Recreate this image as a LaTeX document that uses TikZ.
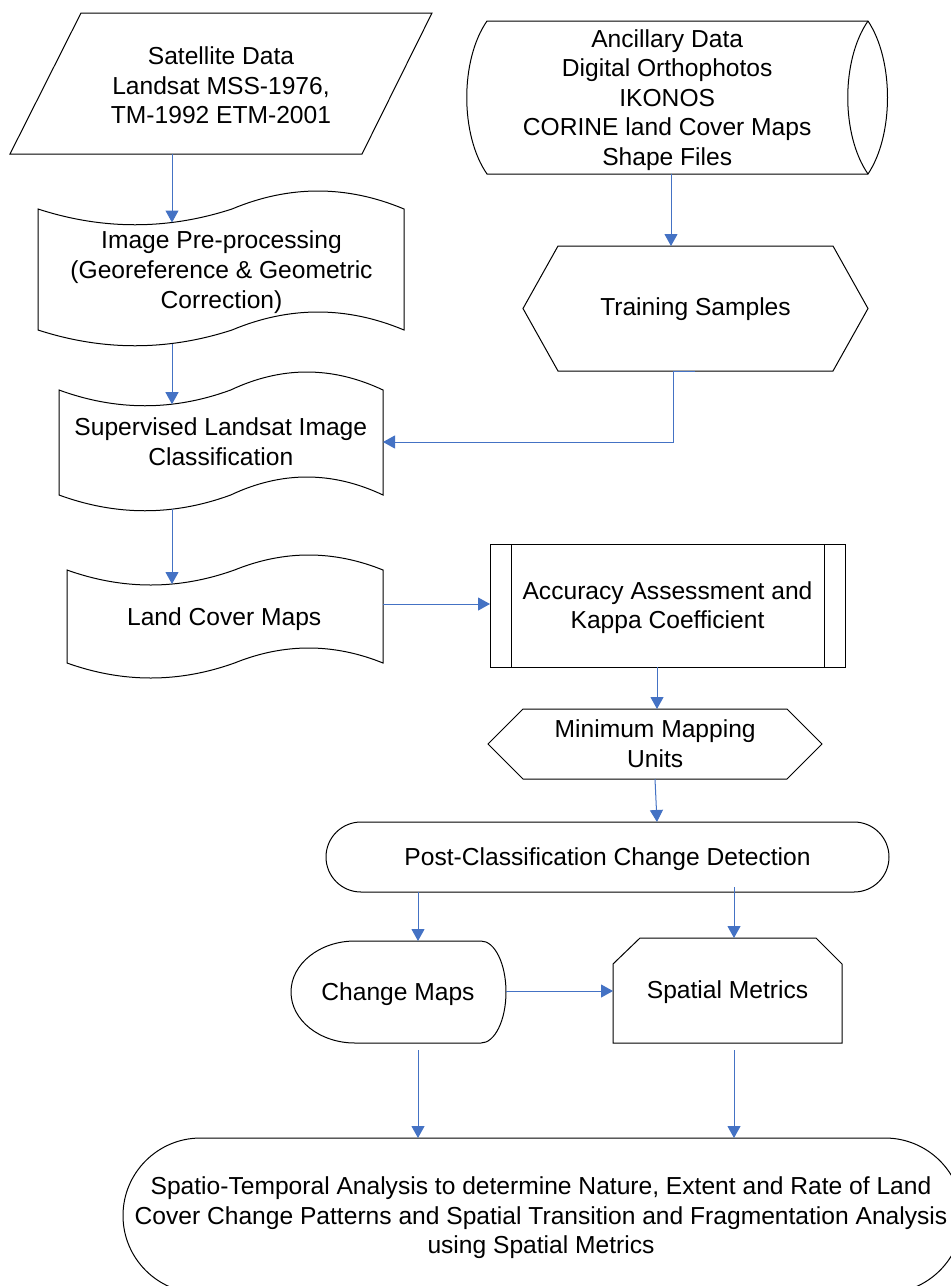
\documentclass[tikz,border=0pt]{standalone}
\usepackage{fontspec}
\setmainfont{Liberation Sans}
\usetikzlibrary{arrows.meta}
\definecolor{conn}{RGB}{68,114,196}
\tikzset{
  lbl/.style={font=\fontsize{24.6}{29.6}\selectfont, align=center, inner sep=0pt, yshift=-2.5pt},
  outline/.style={draw=black, line width=1pt, line join=miter},
  arr/.style={draw=conn, line width=1pt, -{Triangle[length=12pt,width=13pt]}},
}
\begin{document}
\begin{tikzpicture}[x=1pt,y=-1pt]
\useasboundingbox (0,0) rectangle (951,1286);
\fill[white] (0,0) rectangle (951,1286);
\clip (0,0) rectangle (951,1286);

% ---------- Satellite data (parallelogram)
\draw[outline] (81,13) -- (432,13) -- (362,154) -- (10,154) -- cycle;
\node[lbl] (sat) at (221,82.9) {Satellite Data\\Landsat MSS-1976,\\TM-1992 ETM-2001};
\coordinate (sat-s) at (172,154);

% ---------- Image pre-processing (tape)
\draw[outline] (38,209) .. controls (102.7,230) and (167.3,230) .. (232,209)
  .. controls (289.3,185) and (346.7,185) .. (404,209) -- (404,330)
  .. controls (346.7,306) and (289.3,306) .. (232,330)
  .. controls (167.3,351) and (102.7,351) .. (38,330) -- cycle;
\node[lbl] (pre) at (221.5,269.6) {Image Pre-processing\\(Georeference \& Geometric\\Correction)};
\coordinate (pre-n) at (172,222.5);
\coordinate (pre-s) at (172,343.5);

% ---------- Supervised classification (tape)
\draw[outline] (59,390) .. controls (116.2,411) and (173.5,411) .. (230.7,390)
  .. controls (281.5,366) and (332.2,366) .. (383,390) -- (383,495)
  .. controls (332.2,471) and (281.5,471) .. (230.7,495)
  .. controls (173.5,516) and (116.2,516) .. (59,495) -- cycle;
\node[lbl] (sup) at (220.8,439.4) {Supervised Landsat Image\\Classification};
\coordinate (sup-n) at (172,404.2);
\coordinate (sup-s) at (172,509.2);
\coordinate (sup-e) at (383,442);

% ---------- Land cover maps (tape)
\draw[outline] (67,570) .. controls (122.8,590) and (178.7,590) .. (234.5,570)
  .. controls (284,550) and (333.5,550) .. (383,570) -- (383,663)
  .. controls (333.5,643) and (284,643) .. (234.5,663)
  .. controls (178.7,683) and (122.8,683) .. (67,663) -- cycle;
\node[lbl] (lcm) at (224.2,617) {Land Cover Maps};
\coordinate (lcm-n) at (172,584);
\coordinate (lcm-e) at (383,604);

% ---------- Ancillary data (direct access storage)
\draw[outline] (487,21) -- (868,21) .. controls (894,60) and (894,135) .. (868,174)
  -- (487,174) .. controls (460,135) and (460,60) .. (487,21) -- cycle;
\draw[outline] (868,21) .. controls (841,60) and (841,135) .. (868,174);
\node[lbl] (anc) at (667.2,97.5) {Ancillary Data\\Digital Orthophotos\\IKONOS\\CORINE land Cover Maps\\Shape Files};
\coordinate (anc-s) at (671,174);

% ---------- Training samples (hexagon)
\draw[outline] (558,246) -- (833,246) -- (868,308.5) -- (833,371) -- (558,371) -- (523,308.5) -- cycle;
\node[lbl] (train) at (695.5,307) {Training Samples};
\coordinate (train-n) at (671,246);
\coordinate (train-s) at (695,371);
\coordinate (train-bend) at (673,371);

% ---------- Accuracy assessment (predefined process)
\draw[outline] (490,544) rectangle (845,667);
\draw[outline] (511,544) -- (511,667) (824,544) -- (824,667);
\node[lbl] (acc) at (667.5,605) {Accuracy Assessment and\\Kappa Coefficient};
\coordinate (acc-w) at (490,604);
\coordinate (acc-s) at (657,667);

% ---------- Minimum mapping units (hexagon)
\draw[outline] (523,709) -- (787,709) -- (822,744) -- (787,779) -- (523,779) -- (488,744) -- cycle;
\node[lbl] (mmu) at (655.2,741.4) {Minimum Mapping\\Units};
\coordinate (mmu-n) at (657,709);
\coordinate (mmu-s) at (655,779);

% ---------- Post-classification change detection (terminator)
\draw[outline, rounded corners=35pt] (326,822) rectangle (889,892);
\node[lbl] (post) at (607.5,857) {Post-Classification Change Detection};
\coordinate (post-n) at (657,822);
\coordinate (post-sl) at (418,892);
\coordinate (post-sr) at (734,887);

% ---------- Change maps (display)
\draw[outline] (355,941) -- (481,941)
  .. controls (494.8,941) and (506,963.8) .. (506,992)
  .. controls (506,1020.2) and (494.8,1043) .. (481,1043) -- (355,1043)
  .. controls (319.7,1043) and (291,1020.2) .. (291,992)
  .. controls (291,963.8) and (319.7,941) .. (355,941) -- cycle;
\node[lbl] (cm) at (398,992) {Change Maps};
\coordinate (cm-n) at (418,941);
\coordinate (cm-e) at (506,991);
\coordinate (cm-s) at (418,1050);

% ---------- Spatial metrics (card)
\draw[outline] (640,938) -- (816,938) -- (842,964) -- (842,1043) -- (613,1043) -- (613,964) -- cycle;
\node[lbl] (sm) at (727.5,990) {Spatial Metrics};
\coordinate (sm-n) at (734,938);
\coordinate (sm-w) at (613,991);
\coordinate (sm-s) at (734,1050);

% ---------- Final analysis (terminator, cut by the page)
\draw[outline, rounded corners=77.6pt] (123,1138) rectangle (962.6,1293.2);
\node[lbl] (final) at (541,1215.5) {Spatio-Temporal Analysis to determine Nature, Extent and Rate of Land\\Cover Change Patterns and Spatial Transition and Fragmentation Analysis\\using Spatial Metrics};
\coordinate (final-nl) at (418,1138);
\coordinate (final-nr) at (734,1138);

% ---------- connectors
\draw[arr] (sat-s) -- (pre-n);
\draw[arr] (pre-s) -- (sup-n);
\draw[arr] (sup-s) -- (lcm-n);
\draw[arr] (anc-s) -- (train-n);
\draw[arr] (train-s) -- (train-bend) |- (sup-e);
\draw[arr] (lcm-e) -- (acc-w);
\draw[arr] (acc-s) -- (mmu-n);
\draw[arr] (mmu-s) -- (post-n);
\draw[arr] (post-sl) -- (cm-n);
\draw[arr] (post-sr) -- (sm-n);
\draw[arr] (cm-e) -- (sm-w);
\draw[arr] (cm-s) -- (final-nl);
\draw[arr] (sm-s) -- (final-nr);
\end{tikzpicture}
\end{document}
